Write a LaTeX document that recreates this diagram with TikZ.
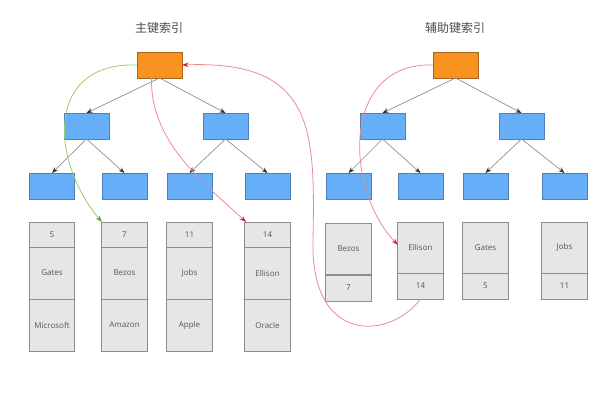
\documentclass[tikz,border=0pt]{standalone}
\usepackage{fontspec}
\setmainfont{Open Sans}
\newfontfamily\cjk{Noto Sans CJK SC}
\usetikzlibrary{arrows.meta}
\definecolor{orangebox}{HTML}{F7931E}
\definecolor{orangeedge}{HTML}{A8641C}
\definecolor{bluebox}{HTML}{66AEF8}
\definecolor{blueedge}{HTML}{4F7FB8}
\definecolor{recfill}{HTML}{E6E6E6}
\definecolor{recedge}{HTML}{8C8C8C}
\definecolor{txt}{HTML}{555555}
\definecolor{redline}{HTML}{EC8A90}
\definecolor{redtip}{HTML}{E0202E}
\definecolor{greenline}{HTML}{9CCB6A}
\definecolor{greentip}{HTML}{5AA020}
\tikzset{
  rootbox/.style={draw=orangeedge,fill=orangebox,line width=0.5pt,minimum width=33.75pt,minimum height=19.5pt,inner sep=0pt,outer sep=0pt},
  innerbox/.style={draw=blueedge,fill=bluebox,line width=0.5pt,minimum width=33.75pt,minimum height=19.5pt,inner sep=0pt,outer sep=0pt},
  cell/.style={draw=recedge,fill=recfill,line width=0.6pt,minimum width=34pt,inner sep=0pt,outer sep=0pt,font=\fontsize{6pt}{7pt}\selectfont,text=txt},
  shortcell/.style={cell,minimum height=18.75pt},
  tallcell/.style={cell,minimum height=39pt},
  rcellA/.style={cell,minimum height=38.25pt},
  rcellB/.style={cell,minimum height=19.5pt},
  treeedge/.style={draw=black!45,line width=0.5pt,-{Stealth[length=4.5pt,width=3.5pt,color=black!80]}},
  redcurve/.style={draw=redline,line width=0.6pt,-{Stealth[length=5pt,width=3.5pt,color=redtip]}},
  greencurve/.style={draw=greenline,line width=0.6pt,-{Stealth[length=5pt,width=3.5pt,color=greentip]}},
  title/.style={font=\cjk\fontsize{9pt}{10pt}\selectfont,text=black!70}
}
\begin{document}
\begin{tikzpicture}[x=0.75pt,y=-0.75pt]
\useasboundingbox (0,0) rectangle (600,400);
% titles
\node[title] (t1) at (159,28) {主键索引};
\node[title] (t2) at (455,28) {辅助键索引};
% left tree
\node[rootbox] (root1) at (159.5,65) {};
\node[innerbox] (la) at (86.5,126) {};
\node[innerbox] (lb) at (225.5,126) {};
\node[innerbox] (l1) at (52,186) {};
\node[innerbox] (l2) at (124.5,186) {};
\node[innerbox] (l3) at (189.5,186) {};
\node[innerbox] (l4) at (267.5,186) {};
\foreach \c in {la,lb}{\draw[treeedge] (root1.south) -- (\c.north);}
\draw[treeedge] (la.south) -- (l1.north);
\draw[treeedge] (la.south) -- (l2.north);
\draw[treeedge] (lb.south) -- (l3.north);
\draw[treeedge] (lb.south) -- (l4.north);
% left records
\node[shortcell] (p1a) at (52,234.5) {5};
\node[tallcell] (p1b) at (52,273) {Gates};
\node[tallcell] (p1c) at (52,325) {Microsoft};
\node[shortcell] (p2a) at (124.5,234.5) {7};
\node[tallcell] (p2b) at (124.5,273) {Bezos};
\node[tallcell] (p2c) at (124.5,325) {Amazon};
\node[shortcell] (p3a) at (189.5,234.5) {11};
\node[tallcell] (p3b) at (189.5,273) {Jobs};
\node[tallcell] (p3c) at (189.5,325) {Apple};
\node[shortcell] (p4a) at (267.5,234.5) {14};
\node[tallcell] (p4b) at (267.5,273) {Ellison};
\node[tallcell] (p4c) at (267.5,325) {Oracle};
% right tree
\node[rootbox] (root2) at (455.5,65) {};
\node[innerbox] (ra) at (382.5,126) {};
\node[innerbox] (rb) at (521.5,126) {};
\node[innerbox] (r1) at (348.5,186) {};
\node[innerbox] (r2) at (420.5,186) {};
\node[innerbox] (r3) at (485.5,186) {};
\node[innerbox] (r4) at (564.5,186) {};
\foreach \c in {ra,rb}{\draw[treeedge] (root2.south) -- (\c.north);}
\draw[treeedge] (ra.south) -- (r1.north);
\draw[treeedge] (ra.south) -- (r2.north);
\draw[treeedge] (rb.south) -- (r3.north);
\draw[treeedge] (rb.south) -- (r4.north);
% right records
\node[rcellA] (s1a) at (348.5,249) {Bezos};
\node[rcellB] (s1b) at (348.5,288) {7};
\node[rcellA] (s2a) at (420.5,247.5) {Ellison};
\node[rcellB] (s2b) at (420.5,286) {14};
\node[rcellA] (s3a) at (485.5,247.5) {Gates};
\node[rcellB] (s3b) at (485.5,286) {5};
\node[rcellA] (s4a) at (564.5,247.5) {Jobs};
\node[rcellB] (s4b) at (564.5,286) {11};
% curves
\draw[greencurve] (root1.west) .. controls (45,62) and (50,160) .. (p2a.north west);
\draw[redcurve] ([xshift=-6pt]root1.south) .. controls (150,140) and (200,180) .. ([xshift=1pt]p4a.north west);
\draw[redcurve] (s2b.south) .. controls (390,340) and (310,345) .. (313,240)
   .. controls (315,130) and (315,60) .. (root1.east);
\draw[redcurve] (root2.west) .. controls (340,62) and (345,190) .. ([yshift=2pt]s2a.west);
\end{tikzpicture}
\end{document}
